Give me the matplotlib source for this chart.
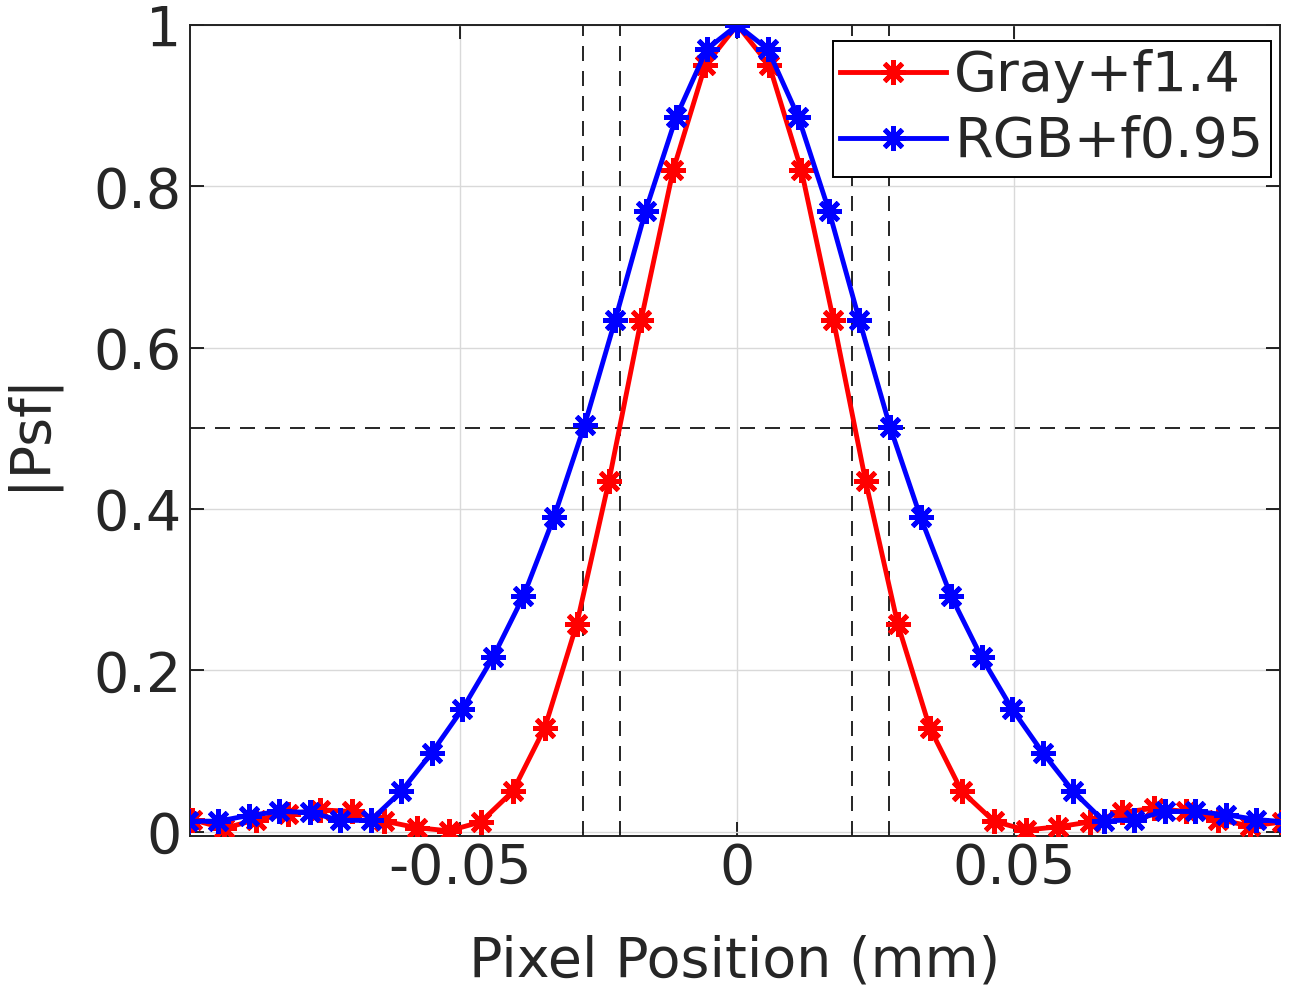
import numpy as np
import matplotlib
matplotlib.use("Agg")
import matplotlib.pyplot as plt

# sample pitch (mm) of each profile
pitch_gray = 0.00579
pitch_rgb = 0.005514

# |Psf| samples, index -17..17 (gray) and -18..18 (rgb)
idx_gray = np.arange(-17, 18)
psf_gray = [0.015, 0.004, 0.015, 0.022, 0.027, 0.025, 0.013, 0.005, 0.001, 0.012,
            0.050, 0.129, 0.258, 0.435, 0.634, 0.820, 0.950, 1.000, 0.950, 0.820,
            0.634, 0.435, 0.258, 0.129, 0.050, 0.013, 0.002, 0.006, 0.012, 0.024,
            0.029, 0.025, 0.015, 0.007, 0.012]

idx_rgb = np.arange(-18, 19)
psf_rgb = [0.013, 0.013, 0.020, 0.025, 0.024, 0.014, 0.014, 0.050, 0.098, 0.152,
           0.216, 0.292, 0.390, 0.504, 0.634, 0.770, 0.886, 0.970, 1.000, 0.970,
           0.886, 0.770, 0.634, 0.502, 0.390, 0.292, 0.216, 0.152, 0.098, 0.050,
           0.013, 0.015, 0.025, 0.025, 0.021, 0.015, 0.012]

# half-maximum crossings (mm)
fwhm_x = [-0.0278, -0.0211, 0.0208, 0.0274]
half_max = 0.5

labels = ["Gray+f1.4", "RGB+f0.95"]
x_ticks = [-0.05, 0, 0.05]
x_ticklabels = ["-0.05", "0", "0.05"]
y_ticks = [0, 0.2, 0.4, 0.6, 0.8, 1]
y_ticklabels = ["0", "0.2", "0.4", "0.6", "0.8", "1"]

txt = "#262626"
plt.rcParams["font.family"] = ["DejaVu Sans"]
plt.rcParams["text.color"] = txt

fig = plt.figure(figsize=(12.9, 9.89), dpi=100)
ax = fig.add_axes([0.1473, 0.1542, 0.845, 0.8205])

marker = (8, 2, 0)
ax.plot(idx_gray * pitch_gray, psf_gray, color="red", lw=3.5, marker=marker,
        ms=18, mew=3.5, label=labels[0], zorder=3)
ax.plot(idx_rgb * pitch_rgb, psf_rgb, color="blue", lw=3.5, marker=marker,
        ms=18, mew=3.5, label=labels[1], zorder=4)

dash = (0, (9, 6))
for xv in fwhm_x:
    ax.axvline(xv, color="black", lw=1.2, linestyle=dash, zorder=2)
ax.axhline(half_max, color="black", lw=1.2, linestyle=dash, zorder=2)

ax.set_xlim(-0.0988, 0.0980)
ax.set_ylim(-0.006, 1.0)
ax.set_xticks(x_ticks)
ax.set_xticklabels(x_ticklabels)
ax.set_yticks(y_ticks)
ax.set_yticklabels(y_ticklabels)

ax.grid(True, color="#d9d9d9", lw=1.0, zorder=0)
ax.set_axisbelow(True)
ax.tick_params(direction="in", length=10, width=1.2, labelsize=40,
               labelcolor=txt, top=True, right=True, pad=6)
ax.tick_params(axis="x", pad=4)
for s in ax.spines.values():
    s.set_linewidth(1.4)
    s.set_color("#222222")

ax.set_xlabel("Pixel Position (mm)", fontsize=40, labelpad=28, color=txt)
ax.set_ylabel("|Psf|", fontsize=40, labelpad=26, color=txt)

leg = ax.legend(loc="upper right", bbox_to_anchor=(0.992, 0.98), fontsize=40,
                fancybox=False, framealpha=1, edgecolor="black",
                borderaxespad=0, borderpad=0.14, labelspacing=0.22,
                handlelength=1.9, handletextpad=0.15)
leg.get_frame().set_linewidth(1.4)
leg.set_zorder(10)

fig.savefig("out.png", dpi=100)
